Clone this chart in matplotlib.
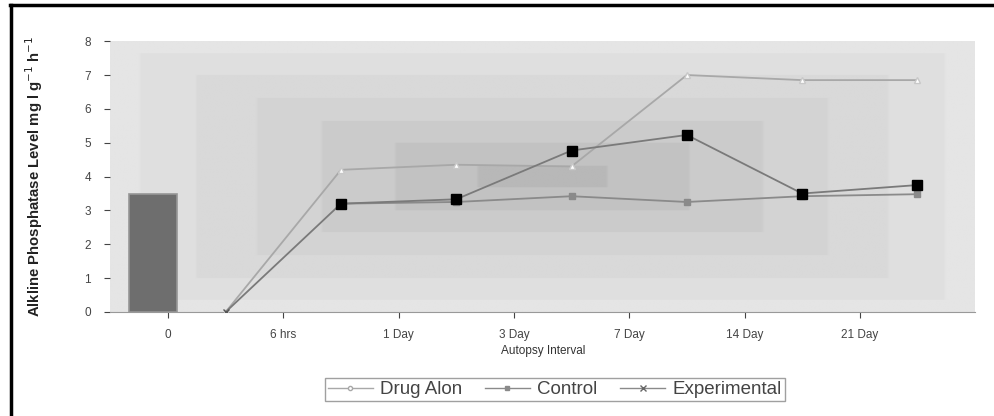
import numpy as np
import matplotlib
matplotlib.use('Agg')
import matplotlib.pyplot as plt
from matplotlib.lines import Line2D

plt.rcParams['font.family'] = ['Liberation Sans', 'DejaVu Sans']

# data
categories = ['0', '6 hrs', '1 Day', '3 Day', '7 Day', '14 Day', '21 Day']
bar_value = 3.5
drug_alon = [0, 4.2, 4.35, 4.3, 7.0, 6.85, 6.85]
control = [np.nan, 3.2, 3.25, 3.42, 3.25, 3.42, 3.48]
experimental = [0, 3.2, 3.33, 4.77, 5.23, 3.5, 3.75]

x_cat = np.arange(len(categories))
x_pts = x_cat + 0.5

fig = plt.figure(figsize=(9.94, 4.16), dpi=100)
ax = fig.add_axes([0.111, 0.25, 0.87, 0.651])

# "from centre" gradient of the plot area, banded like the scan
n = 200
u = np.linspace(-1, 1, n)
uu, vv = np.meshgrid(u, u)
d = np.maximum(np.abs(uu) ** 1.3, np.abs(vv))
d = np.round(d * 6) / 6
ax.imshow(d, cmap=matplotlib.colors.LinearSegmentedColormap.from_list(
    'bg', ['#b8b8b8', '#c8c8c8', '#d3d3d3', '#dcdcdc', '#e5e5e5']),
    extent=[0, 1, 0, 1], transform=ax.transAxes, aspect='auto', zorder=0)

ax.bar(-0.13, bar_value, width=0.42, color='#6e6e6e', edgecolor='#969696', linewidth=1.2, zorder=2)

ax.plot(x_pts, drug_alon, color='#a8a8a8', lw=1.3, marker='^', ms=5,
        mfc='white', mec='#c8c8c8', zorder=3)
ax.plot(x_pts, control, color='#8a8a8a', lw=1.3, marker='s', ms=4,
        mfc='#8a8a8a', mec='#8a8a8a', zorder=3)
ax.plot(x_pts, experimental, color='#7a7a7a', lw=1.3, marker='s', ms=7,
        mfc='black', mec='black', markevery=list(range(1, 7)), zorder=4)
ax.plot(x_pts[:1], experimental[:1], ls='none', marker='x', ms=4, mec='#555555', zorder=4)

ax.set_xlim(-0.5, 7.0)
ax.set_ylim(0, 8)
ax.set_yticks(range(0, 9))
ax.set_xticks(x_cat)
ax.set_xticklabels(categories)
ax.tick_params(axis='both', labelsize=8.5, colors='#444444', length=4, width=0.8)
ax.tick_params(axis='x', pad=8)
ax.tick_params(axis='y', pad=10)
for s in ['top', 'right', 'left']:
    ax.spines[s].set_visible(False)
ax.spines['bottom'].set_color('#999999')

ax.set_xlabel('Autopsy Interval', fontsize=8.5, color='#333333', labelpad=3)
ax.set_ylabel('Alkline Phosphatase Level mg l g$^{-1}$ h$^{-1}$', fontsize=10.7,
              color='#222222', labelpad=28, fontweight='bold')

handles = [
    Line2D([], [], color='#a8a8a8', lw=1, marker='o', ms=3, mfc='white', mec='#a8a8a8'),
    Line2D([], [], color='#8a8a8a', lw=1, marker='s', ms=3, mfc='#8a8a8a', mec='#8a8a8a'),
    Line2D([], [], color='#8a8a8a', lw=1, marker='x', ms=4, mec='#666666'),
]
leg = fig.legend(handles, ['Drug Alon', 'Control', 'Experimental'], loc='center',
                 bbox_to_anchor=(0.558, 0.063), ncol=3, fontsize=13.5, frameon=True,
                 fancybox=False, handlelength=2.4, handletextpad=0.4, columnspacing=1.2,
                 borderpad=0.15)
leg.get_frame().set_edgecolor('#888888')
leg.get_frame().set_linewidth(1)
for t in leg.get_texts():
    t.set_color('#444444')

# black frame on top and left of the image
fig.add_artist(Line2D([0.01, 1.0], [0.988, 0.988], color='black', lw=2.5, transform=fig.transFigure))
fig.add_artist(Line2D([0.011, 0.011], [0.0, 0.988], color='black', lw=2.5, transform=fig.transFigure))

fig.savefig('out.png', dpi=100)
